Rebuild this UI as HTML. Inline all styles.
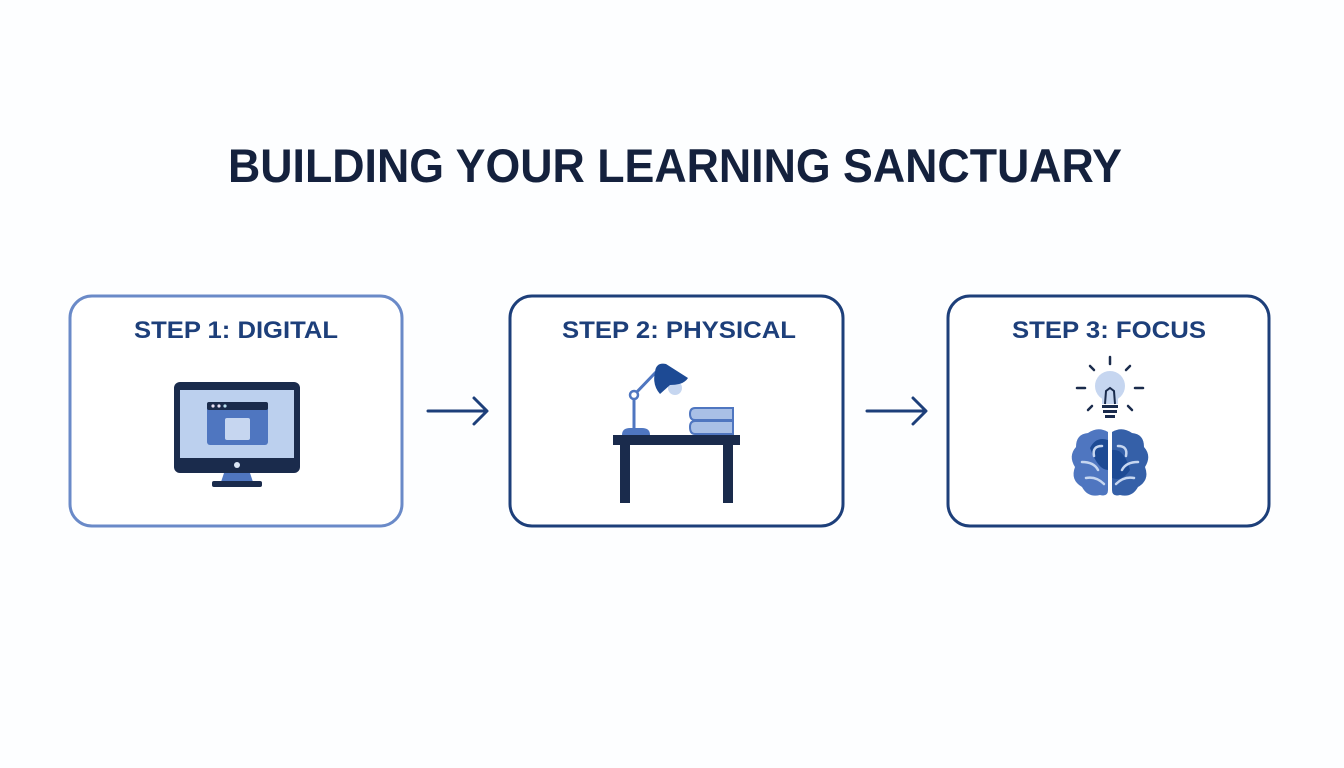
<!DOCTYPE html>
<html><head><meta charset="utf-8"><style>
html,body{margin:0;padding:0;background:#fdfeff;}
svg{display:block;}
text{font-family:"Liberation Sans",sans-serif;font-weight:bold;}
</style></head><body>
<svg width="1344" height="768" viewBox="0 0 1344 768" xmlns="http://www.w3.org/2000/svg">
<rect width="1344" height="768" fill="#fdfeff"/>
<text x="675" y="182" text-anchor="middle" font-size="47" fill="#14213d" textLength="894" lengthAdjust="spacingAndGlyphs">BUILDING YOUR LEARNING SANCTUARY</text>

<rect x="70" y="296" width="332" height="230" rx="22" fill="#fff" stroke="#6a8ac8" stroke-width="3"/>
<rect x="510" y="296" width="333" height="230" rx="22" fill="#fff" stroke="#1d3f7a" stroke-width="3"/>
<rect x="948" y="296" width="321" height="230" rx="22" fill="#fff" stroke="#1d3f7a" stroke-width="3"/>

<text x="236" y="338" text-anchor="middle" font-size="24" fill="#1d3f7a" textLength="204" lengthAdjust="spacingAndGlyphs">STEP 1: DIGITAL</text>
<text x="679" y="338" text-anchor="middle" font-size="24" fill="#1d3f7a" textLength="234" lengthAdjust="spacingAndGlyphs">STEP 2: PHYSICAL</text>
<text x="1109" y="338" text-anchor="middle" font-size="24" fill="#1d3f7a" textLength="194" lengthAdjust="spacingAndGlyphs">STEP 3: FOCUS</text>

<!-- arrows -->
<g stroke="#1d3f7a" stroke-width="3" fill="none" stroke-linecap="round" stroke-linejoin="round">
<path d="M428 411 H486 M474 398 L487 411 L474 424"/>
<path d="M867 411 H925 M913 398 L926 411 L913 424"/>
</g>

<!-- monitor -->
<rect x="174" y="382" width="126" height="91" rx="6" fill="#1a2b4c"/>
<rect x="180" y="390" width="114" height="68" fill="#bcd0ee"/>
<rect x="207" y="402" width="61" height="43" rx="3" fill="#4f76c0"/>
<rect x="207" y="402" width="61" height="8" rx="2" fill="#1a2b4c"/>
<circle cx="213" cy="406" r="1.6" fill="#e8e0f4"/><circle cx="219" cy="406" r="1.6" fill="#e8e0f4"/><circle cx="225" cy="406" r="1.6" fill="#b8dff0"/>
<rect x="225" y="418" width="25" height="22" rx="2" fill="#c6d6f0"/>
<circle cx="237" cy="465" r="3" fill="#dbe6f6"/>
<path d="M224 473 H250 L253 482 H221 Z" fill="#4f76c0"/>
<rect x="212" y="481" width="50" height="6" rx="2" fill="#1a2b4c"/>

<!-- desk + lamp + books -->
<rect x="613" y="435" width="127" height="10" fill="#1a2b4c"/>
<rect x="620" y="444" width="10" height="59" fill="#1a2b4c"/>
<rect x="723" y="444" width="10" height="59" fill="#1a2b4c"/>
<path d="M622 435 Q622 428 630 428 H642 Q650 428 650 435 Z" fill="#4f76c0"/>
<line x1="634" y1="430" x2="634" y2="395" stroke="#4f76c0" stroke-width="3"/>
<line x1="634" y1="395" x2="656" y2="372" stroke="#4f76c0" stroke-width="3"/>
<circle cx="634" cy="395" r="4" fill="#fff" stroke="#4f76c0" stroke-width="2.5"/>
<circle cx="675" cy="388" r="7" fill="#c6d6f0"/>
<path d="M655 372 Q656 362 666 364 L688 378 Q684 385 670 385 L660 394 Q652 385 655 372 Z" fill="#1d4a94"/>
<path d="M695 408 H733 V420 H695 Q690 420 690 414 Q690 408 695 408 Z" fill="#a9c0e6" stroke="#4f76c0" stroke-width="2"/>
<path d="M695 421 H733 V434 H695 Q690 434 690 427 Q690 421 695 421 Z" fill="#a9c0e6" stroke="#4f76c0" stroke-width="2"/>

<!-- bulb -->
<g stroke="#1a2b4c" stroke-width="2.5" stroke-linecap="round">
<line x1="1110" y1="357" x2="1110" y2="364"/>
<line x1="1090" y1="366" x2="1094" y2="370"/><line x1="1130" y1="366" x2="1126" y2="370"/>
<line x1="1077" y1="388" x2="1085" y2="388"/><line x1="1135" y1="388" x2="1143" y2="388"/>
<line x1="1088" y1="410" x2="1092" y2="406"/><line x1="1132" y1="410" x2="1128" y2="406"/>
</g>
<circle cx="1110" cy="386" r="15" fill="#c6d6f0"/>
<path d="M1102 396 H1118 V404 H1102 Z" fill="#c6d6f0"/>
<path d="M1105 404 L1106 391 L1110 388 L1114 391 L1115 404" fill="none" stroke="#1a2b4c" stroke-width="2"/>
<rect x="1102" y="405" width="16" height="3" fill="#1a2b4c"/>
<rect x="1103" y="410" width="14" height="3" fill="#1a2b4c"/>
<rect x="1105" y="415" width="10" height="3" fill="#1a2b4c"/>

<!-- brain -->
<path d="M1108 432 Q1098 426 1088 433 Q1076 434 1076 447 Q1068 456 1075 467 Q1070 480 1082 487 Q1088 498 1100 495 Q1108 497 1108 490 Z" fill="#4f76c0"/>
<path d="M1112 432 Q1122 426 1132 433 Q1144 434 1144 447 Q1152 456 1145 467 Q1150 480 1138 487 Q1132 498 1120 495 Q1112 497 1112 490 Z" fill="#3560a8"/>
<path d="M1108 440 Q1096 436 1090 448 Q1098 470 1108 470 Z" fill="#1d4a94"/>
<path d="M1112 450 Q1124 448 1130 470 Q1122 482 1112 478 Z" fill="#1d4a94"/>
<g stroke="#c6d6f0" stroke-width="2.5" fill="none" stroke-linecap="round">
<path d="M1102 446 Q1092 446 1094 456"/><path d="M1082 462 Q1094 462 1098 470"/><path d="M1086 478 Q1096 476 1104 484"/>
<path d="M1118 446 Q1128 446 1126 456"/><path d="M1138 462 Q1126 462 1122 470"/><path d="M1134 478 Q1124 476 1116 484"/>
</g>
</svg>
</body></html>
